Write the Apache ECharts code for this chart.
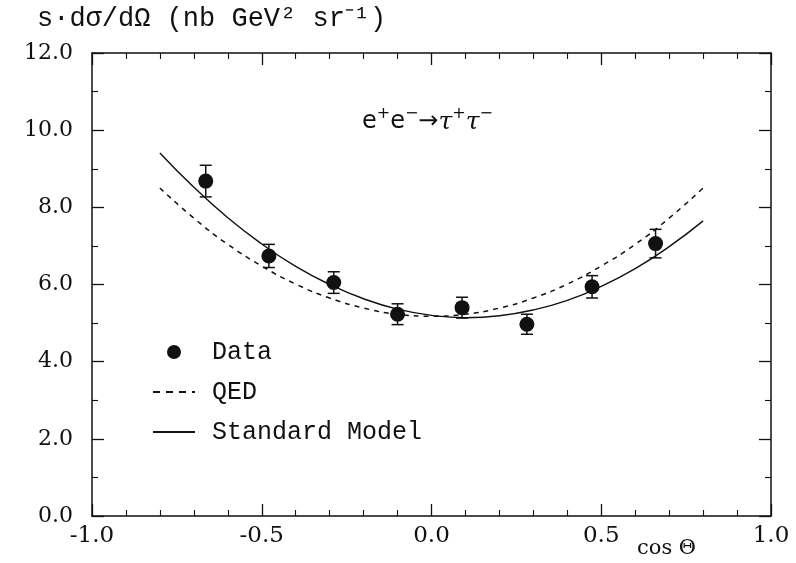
<!DOCTYPE html>
<html>
<head>
<meta charset="utf-8">
<script src="https://cdn.jsdelivr.net/npm/echarts@6/dist/echarts.min.js"></script>
<style>
  html, body { margin: 0; padding: 0; background: #fff; }
  #chart { width: 796px; height: 563px; }
</style>
</head>
<body>
<div id="chart"></div>
<script>
// Measured points: cos(theta) bin centres, s*dsigma/dOmega and symmetric errors
const dataCos = [-0.665, -0.479, -0.288, -0.100, 0.090, 0.281, 0.473, 0.660];
const dataVal = [8.68, 6.74, 6.05, 5.23, 5.40, 4.97, 5.94, 7.06];
const dataErr = [0.41, 0.30, 0.28, 0.27, 0.27, 0.26, 0.29, 0.37];

// Theory curves sampled along cos(theta)
const curveCos = [-0.8, -0.7, -0.6, -0.5, -0.4, -0.3, -0.2, -0.1, 0.0,
                  0.1, 0.2, 0.3, 0.4, 0.5, 0.6, 0.7, 0.8];
const qedVal = [8.50, 7.72, 7.04, 6.48, 6.01, 5.65, 5.39, 5.23, 5.18,
                5.23, 5.39, 5.65, 6.01, 6.48, 7.04, 7.72, 8.50];
const smVal  = [9.41, 8.52, 7.73, 7.05, 6.47, 6.00, 5.63, 5.36, 5.20,
                5.14, 5.19, 5.34, 5.59, 5.95, 6.41, 6.98, 7.65];

// Axis ticks
const xTicks = [-1.0, -0.5, 0.0, 0.5, 1.0];
const yTicks = [0, 2, 4, 6, 8, 10, 12];

const pts = dataCos.map((c, i) => [c, dataVal[i]]);
const bars = dataCos.map((c, i) => [c, dataVal[i] - dataErr[i], dataVal[i] + dataErr[i]]);
const qedLine = curveCos.map((c, i) => [c, qedVal[i]]);
const smLine = curveCos.map((c, i) => [c, smVal[i]]);

const INK = '#111';
const tickFont = 'DejaVu Serif';
const monoFont = 'Liberation Mono';

function xAxisDef(pos, showLabel) {
  return {
    type: 'value', position: pos,
    min: xTicks[0], max: xTicks[xTicks.length - 1], interval: 0.5,
    axisLine: { show: true, onZero: false, lineStyle: { color: INK, width: 1.5 } },
    axisTick: { show: true, inside: true, length: 12, lineStyle: { color: INK, width: 1.3 } },
    minorTick: { show: true, splitNumber: 5, length: 6, lineStyle: { color: INK, width: 1.1 } },
    splitLine: { show: false },
    axisLabel: {
      show: showLabel, margin: 9, color: INK, fontFamily: tickFont, fontSize: 23,
      formatter: v => v.toFixed(1)
    }
  };
}
function yAxisDef(pos, showLabel) {
  return {
    type: 'value', position: pos,
    min: yTicks[0], max: yTicks[yTicks.length - 1], interval: 2,
    axisLine: { show: true, onZero: false, lineStyle: { color: INK, width: 1.5 } },
    axisTick: { show: true, inside: true, length: 12, lineStyle: { color: INK, width: 1.3 } },
    minorTick: { show: true, splitNumber: 2, length: 6, lineStyle: { color: INK, width: 1.1 } },
    splitLine: { show: false },
    axisLabel: {
      show: showLabel, margin: 19, color: INK, fontFamily: tickFont, fontSize: 22,
      formatter: v => v.toFixed(1)
    }
  };
}

const chart = echarts.init(document.getElementById('chart'), null, { renderer: 'canvas' });
chart.setOption({
  backgroundColor: '#fff',
  animation: false,
  grid: { left: 92, right: 25, top: 53, bottom: 47, containLabel: false },
  xAxis: [xAxisDef('bottom', true), xAxisDef('top', false)],
  yAxis: [yAxisDef('left', true), yAxisDef('right', false)],
  legend: {
    orient: 'vertical', left: 147, top: 334,
    itemWidth: 42, itemHeight: 14, itemGap: 14,
    textStyle: { fontFamily: monoFont, fontSize: 25, color: INK, lineHeight: 26, padding: [0, 0, 0, 12] },
    data: [
      { name: 'Data', icon: 'circle', itemStyle: { color: INK, opacity: 1 } },
      { name: 'QED', itemStyle: { opacity: 0 }, lineStyle: { type: [7, 6] } },
      { name: 'Standard Model', itemStyle: { opacity: 0 } }
    ]
  },
  graphic: [
    {
      type: 'text', left: 37, top: 5,
      style: { text: 's·dσ/dΩ (nb GeV² sr⁻¹)', fontFamily: monoFont, fontSize: 27, fill: INK }
    },
    {
      type: 'text', left: 637, top: 538,
      style: { text: 'cos Θ', fontFamily: tickFont, fontSize: 21, fill: INK }
    },
    {
      type: 'text', left: 362, top: 106,
      style: {
        text: 'e{s|+}e{s|−}→{t|τ}{s|+}{t|τ}{s|−}',
        fontFamily: 'DejaVu Sans', fontSize: 24, fill: INK, lineHeight: 32,
        rich: {
          s: { fontFamily: 'DejaVu Sans', fontSize: 16, verticalAlign: 'top', lineHeight: 32, fill: INK },
          t: { fontFamily: 'DejaVu Serif', fontStyle: 'italic', fontSize: 25, lineHeight: 32, fill: INK }
        }
      }
    }
  ],
  series: [
    {
      name: 'QED', type: 'line', data: qedLine, smooth: true, symbol: 'none',
      xAxisIndex: 0, yAxisIndex: 0,
      lineStyle: { color: INK, width: 1.5, type: [5, 5] },
      itemStyle: { color: INK, opacity: 0 }, z: 2
    },
    {
      name: 'Standard Model', type: 'line', data: smLine, smooth: true, symbol: 'none',
      xAxisIndex: 0, yAxisIndex: 0,
      lineStyle: { color: INK, width: 1.4 },
      itemStyle: { color: INK, opacity: 0 }, z: 2
    },
    {
      name: 'Errors', type: 'custom', data: bars, xAxisIndex: 0, yAxisIndex: 0, z: 3,
      renderItem: function (params, api) {
        const x = api.value(0);
        const lo = api.coord([x, api.value(1)]);
        const hi = api.coord([x, api.value(2)]);
        const cap = 6;
        const st = { stroke: INK, lineWidth: 1.5 };
        return {
          type: 'group',
          children: [
            { type: 'line', shape: { x1: lo[0], y1: lo[1], x2: hi[0], y2: hi[1] }, style: st },
            { type: 'line', shape: { x1: lo[0] - cap, y1: lo[1], x2: lo[0] + cap, y2: lo[1] }, style: st },
            { type: 'line', shape: { x1: hi[0] - cap, y1: hi[1], x2: hi[0] + cap, y2: hi[1] }, style: st }
          ]
        };
      }
    },
    {
      name: 'Data', type: 'scatter', data: pts, symbol: 'circle', symbolSize: 15,
      xAxisIndex: 0, yAxisIndex: 0,
      itemStyle: { color: INK, opacity: 1 }, z: 4
    }
  ]
});
</script>
</body>
</html>
